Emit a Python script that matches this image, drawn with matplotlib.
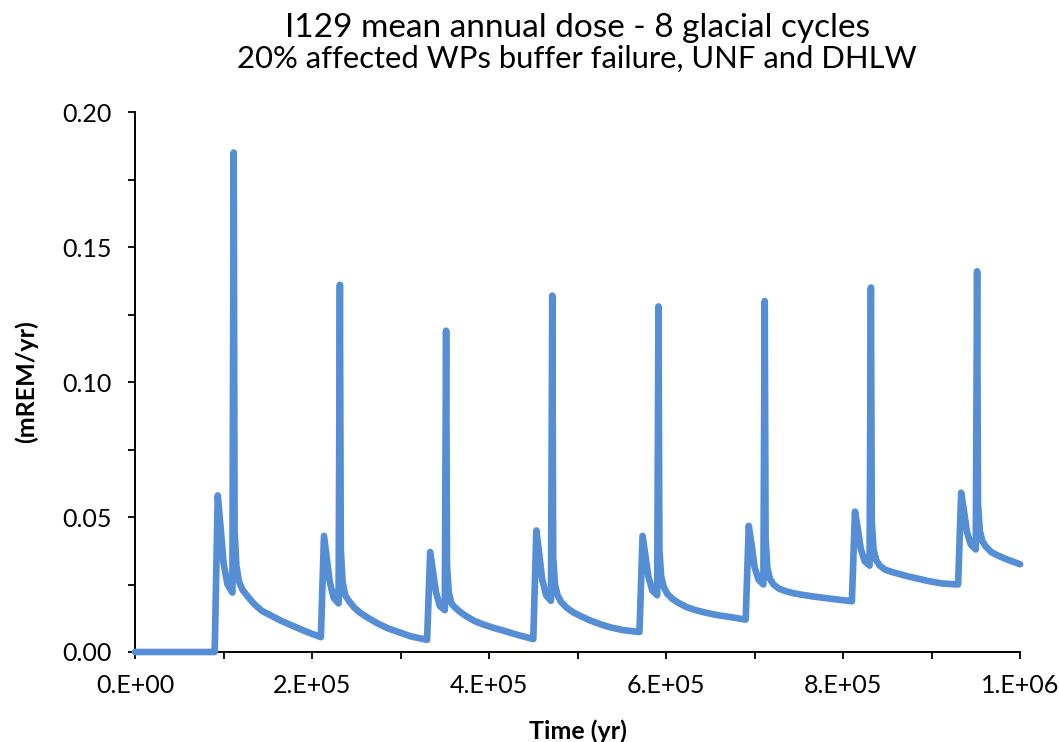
import numpy as np
import matplotlib.pyplot as plt
from matplotlib.ticker import MultipleLocator

# start of each glacial cycle (yr) and dose just before the jump (mREM/yr)
cycle_start = [90e3, 210e3, 330e3, 450e3, 570e3, 690e3, 810e3, 930e3]
pre_jump = [0.0, 0.0055, 0.0045, 0.0048, 0.0074, 0.012, 0.0188, 0.025]

# first (small) peak and its fall towards the trough
small_dt = [3.5e3, 7e3, 10e3, 14.5e3, 20e3]
small = [
    [0.058, 0.045, 0.033, 0.025, 0.022],
    [0.043, 0.034, 0.026, 0.020, 0.018],
    [0.037, 0.029, 0.0222, 0.017, 0.0155],
    [0.045, 0.0355, 0.027, 0.021, 0.019],
    [0.043, 0.035, 0.028, 0.0228, 0.021],
    [0.0467, 0.039, 0.0315, 0.0268, 0.025],
    [0.052, 0.045, 0.0383, 0.0336, 0.032],
    [0.059, 0.0515, 0.0445, 0.0397, 0.038],
]
big_dt = 21.5e3
big_peak = [0.185, 0.136, 0.119, 0.132, 0.128, 0.130, 0.135, 0.141]

# decay after the big peak: offsets (yr) from the peak and doses
decay_dt = [1e3, 3e3, 6e3, 10e3, 16e3, 23e3, 32e3, 42e3, 54e3, 66e3, 80e3]
decay = [
    [0.045, 0.032, 0.026, 0.023, 0.0205, 0.0178, 0.0152, 0.0135, 0.0115, 0.0098, 0.0078],
    [0.038, 0.026, 0.021, 0.019, 0.0165, 0.0145, 0.0126, 0.0107, 0.0088, 0.0074, 0.0058],
    [0.032, 0.022, 0.018, 0.0165, 0.0148, 0.0132, 0.0115, 0.0102, 0.0089, 0.0078, 0.0064],
    [0.035, 0.025, 0.021, 0.0185, 0.0165, 0.0148, 0.0133, 0.0118, 0.0103, 0.0091, 0.0081],
    [0.038, 0.028, 0.024, 0.0215, 0.0196, 0.0181, 0.0166, 0.0155, 0.0145, 0.0137, 0.0130],
    [0.042, 0.031, 0.027, 0.025, 0.0235, 0.0226, 0.0218, 0.0212, 0.0206, 0.0201, 0.0195],
    [0.048, 0.038, 0.034, 0.032, 0.0305, 0.0297, 0.0289, 0.028, 0.0271, 0.0262, 0.0254],
]
last_dt = [1e3, 3e3, 6e3, 10e3, 16e3, 23e3, 32e3, 42e3, 48.5e3]
last_decay = [0.055, 0.045, 0.041, 0.039, 0.037, 0.0358, 0.0345, 0.0333, 0.0325]

x_ticks = [0, 2e5, 4e5, 6e5, 8e5, 1e6]
x_labels = ['0.E+00', '2.E+05', '4.E+05', '6.E+05', '8.E+05', '1.E+06']
y_ticks = [0, 0.05, 0.10, 0.15, 0.20]
y_labels = ['0.00', '0.05', '0.10', '0.15', '0.20']

# build the series
t = [0.0]
dose = [0.0]
for i, j in enumerate(cycle_start):
    t += [j] + [j + d for d in small_dt] + [j + big_dt]
    dose += [pre_jump[i]] + small[i] + [big_peak[i]]
    b = j + big_dt
    if i < len(decay):
        t += [b + d for d in decay_dt]
        dose += decay[i]
    else:
        t += [b + d for d in last_dt]
        dose += last_decay

plt.rcParams['font.family'] = ['Lato', 'DejaVu Sans']

fig = plt.figure(figsize=(10.59, 7.42), dpi=100)
ax = fig.add_axes([0.1275, 0.1213, 0.8357, 0.7277])

ax.plot(t, dose, color='#558ED5', lw=4.8, solid_joinstyle='round',
        solid_capstyle='round', clip_on=False, zorder=3)

ax.set_xlim(0, 1e6)
ax.set_ylim(0, 0.20)
ax.set_xticks(x_ticks)
ax.set_xticklabels(x_labels)
ax.set_yticks(y_ticks)
ax.set_yticklabels(y_labels)
ax.xaxis.set_minor_locator(MultipleLocator(1e5))
ax.yaxis.set_minor_locator(MultipleLocator(0.025))

for s in ['top', 'right']:
    ax.spines[s].set_visible(False)
for s in ['left', 'bottom']:
    ax.spines[s].set_linewidth(1.4)

ax.tick_params(axis='both', which='both', direction='out', length=5, width=1.3, labelsize=18)
ax.tick_params(axis='y', which='major', pad=12)
ax.tick_params(axis='x', which='major', pad=11)

ax.set_xlabel('Time (yr)', fontsize=18, fontweight='bold')
ax.set_ylabel('(mREM/yr)', fontsize=18, fontweight='bold')
ax.xaxis.set_label_coords(0.5, -0.125)
ax.yaxis.set_label_coords(-0.11, 0.5)

fig.text(0.545, 1 - 37 / 742, 'I129 mean annual dose - 8 glacial cycles',
         ha='center', va='baseline', fontsize=24)
fig.text(0.545, 1 - 68 / 742, '20% affected WPs buffer failure, UNF and DHLW',
         ha='center', va='baseline', fontsize=22.3)

fig.savefig('out.png', dpi=100)
